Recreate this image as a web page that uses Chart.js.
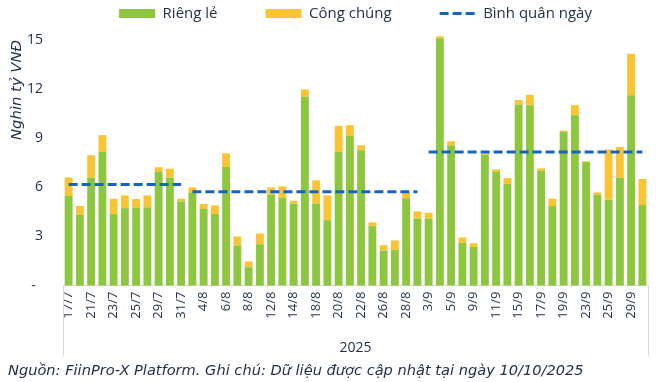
<!DOCTYPE html>
<html>
<head>
<meta charset="utf-8">
<script src="https://cdn.jsdelivr.net/npm/chart.js@4"></script>
<style>
  body { margin: 0; background: #fff; }
  #wrap { width: 658px; height: 382px; }
</style>
</head>
<body>
<div id="wrap"><canvas id="myChart"></canvas></div>
<script>
const days = ['17/7','18/7','21/7','22/7','23/7','24/7','25/7','28/7','29/7','30/7','31/7',
  '1/8','4/8','5/8','6/8','7/8','8/8','11/8','12/8','13/8','14/8','15/8','18/8','19/8','20/8','21/8','22/8','25/8','26/8','27/8','28/8','29/8',
  '3/9','4/9','5/9','8/9','9/9','10/9','11/9','12/9','15/9','16/9','17/9','18/9','19/9','22/9','23/9','24/9','25/9','26/9','29/9','30/9'];

// Riêng lẻ (nghìn tỷ VNĐ)
const riengLe = [5.47,4.33,6.61,8.16,4.37,4.73,4.78,4.78,6.94,6.61,5.14,
  5.67,4.68,4.37,7.25,2.45,1.12,2.53,5.55,5.35,5.0,11.53,5.0,4.0,8.16,9.14,8.27,3.63,2.14,2.18,5.33,4.1,
  4.1,15.1,8.57,2.61,2.37,7.98,6.94,6.2,11.04,11.02,7.0,4.86,9.39,10.41,7.55,5.55,5.25,6.57,11.63,4.92];

// Công chúng
const congChung = [1.14,0.53,1.35,1.03,0.94,0.78,0.51,0.73,0.29,0.53,0.17,
  0.33,0.3,0.53,0.83,0.55,0.35,0.65,0.45,0.71,0.18,0.45,1.43,1.51,1.6,0.66,0.3,0.23,0.33,0.58,0.34,0.43,
  0.35,0.12,0.25,0.33,0.22,0.1,0.16,0.37,0.29,0.63,0.16,0.45,0.08,0.61,0.04,0.14,3.06,1.9,2.53,1.59];

// Bình quân ngày theo tháng
const avgJul = 6.17, avgAug = 5.74, avgSep = 8.16;
const binhQuan = days.map(d => d.endsWith('/7') ? avgJul : d.endsWith('/8') ? avgAug : avgSep);

const textColor = '#1f2d4a';
const font = 'Open Sans';
const italicFont = 'DejaVu Sans';

const boxLines = {
  id: 'boxLines',
  afterLayout(chart) {
    // legend centred over the plot area, close to the top edge
    const lg = chart.legend, ca = chart.chartArea;
    const shift = (ca.left + ca.right) / 2 - (lg.left + lg.right) / 2;
    lg.left += shift;
    lg.right += shift;
    lg.top -= 9;
    lg.bottom -= 9;
  },
  afterDraw(chart) {
    const {ctx, chartArea} = chart;
    ctx.save();
    ctx.strokeStyle = '#d9d9d9';
    ctx.lineWidth = 1;
    ctx.beginPath();
    ctx.moveTo(chartArea.left + 0.5, chartArea.bottom);
    ctx.lineTo(chartArea.left + 0.5, chartArea.bottom + 70);
    ctx.moveTo(chartArea.right + 0.5, chartArea.bottom);
    ctx.lineTo(chartArea.right + 0.5, chartArea.bottom + 70);
    ctx.stroke();
    ctx.restore();
  }
};

new Chart(document.getElementById('myChart'), {
  type: 'bar',
  data: {
    labels: days,
    datasets: [{
      label: 'Riêng lẻ',
      data: riengLe,
      backgroundColor: '#8dc63f',
      pointStyle: 'rect',
      stack: 's',
      clip: false,
      order: 2
    },
    {
      label: 'Công chúng',
      data: congChung,
      backgroundColor: '#fbc434',
      pointStyle: 'rect',
      stack: 's',
      clip: false,
      order: 2
    },
    {
      type: 'line',
      label: 'Bình quân ngày',
      data: binhQuan,
      segment: {
        // no line between months
        borderColor: c => days[c.p0DataIndex].split('/')[1] !== days[c.p1DataIndex].split('/')[1] ? 'rgba(0,0,0,0)' : undefined
      },
      borderColor: '#1565c0',
      backgroundColor: '#1565c0',
      borderWidth: 3,
      borderDash: [9, 4],
      pointRadius: 0,
      pointStyle: 'line',
      tension: 0,
      order: 1
    }]
  },
  options: {
    responsive: true,
    maintainAspectRatio: false,
    animation: false,
    layout: { padding: { left: 8, right: 0, top: -40, bottom: 0 } },
    datasets: {
      bar: { categoryPercentage: 0.7, barPercentage: 1 }
    },
    scales: {
      x: {
        stacked: true,
        grid: { display: false, drawTicks: false },
        border: { color: '#d9d9d9' },
        afterFit: s => { s.paddingRight = 10; },
        ticks: {
          autoSkip: false,
          maxRotation: 90,
          minRotation: 90,
          padding: 6,
          color: textColor,
          font: { family: font, size: 13 },
          callback: function(v, i) { return i % 2 === 0 ? days[i] : ''; }
        },
        title: {
          display: true,
          text: '2025',
          color: textColor,
          font: { family: font, size: 14 },
          padding: { top: 15, bottom: 0 }
        }
      },
      y: {
        stacked: true,
        min: 0,
        max: 15,
        grid: { display: false, drawTicks: false },
        border: { display: false },
        afterFit: s => { s.width = 55; s.paddingTop = 40; },
        ticks: {
          stepSize: 3,
          padding: 20,
          color: textColor,
          font: { family: font, size: 14 },
          callback: v => v === 0 ? '-  ' : v
        },
        title: {
          display: true,
          text: 'Nghìn tỷ VNĐ',
          align: 'end',
          color: textColor,
          font: { family: italicFont, size: 14.8, style: 'italic' },
          padding: { top: 0, bottom: 1 }
        }
      }
    },
    plugins: {
      legend: {
        position: 'top',
        labels: {
          usePointStyle: true,
          pointStyleWidth: 36,
          boxHeight: 9,
          padding: 48,
          color: textColor,
          font: { family: font, size: 15 },
          sort: (a, b) => a.datasetIndex - b.datasetIndex,
          generateLabels: chart => {
            const items = Chart.defaults.plugins.legend.labels.generateLabels(chart);
            items.forEach(it => {
              const ds = chart.data.datasets[it.datasetIndex];
              if (ds.borderDash) {
                it.lineDash = ds.borderDash;
                it.lineWidth = ds.borderWidth;
                it.strokeStyle = ds.borderColor;
              }
            });
            return items;
          }
        }
      },
      title: {
        display: true,
        position: 'bottom',
        align: 'start',
        text: 'Nguồn: FiinPro-X Platform. Ghi chú: Dữ liệu được cập nhật tại ngày 10/10/2025',
        color: textColor,
        font: { family: italicFont, size: 14.6, style: 'italic', weight: 'normal' },
        padding: { top: 6, bottom: 2 }
      },
      tooltip: { enabled: false }
    }
  },
  plugins: [boxLines]
});
</script>
</body>
</html>
